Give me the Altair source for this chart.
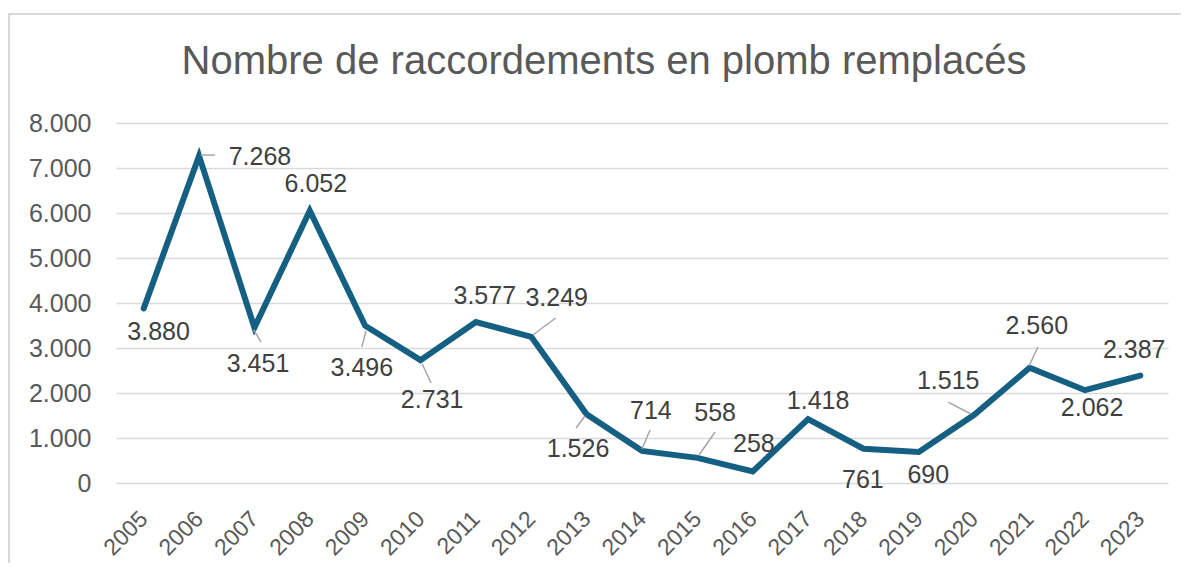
import altair as alt
import pandas as pd

# ---- data ----
years = [2005, 2006, 2007, 2008, 2009, 2010, 2011, 2012, 2013, 2014,
         2015, 2016, 2017, 2018, 2019, 2020, 2021, 2022, 2023]
values = [3880, 7268, 3451, 6052, 3496, 2731, 3577, 3249, 1526, 714,
          558, 258, 1418, 761, 690, 1515, 2560, 2062, 2387]

title_text = "Nombre de raccordements en plomb remplacés"

# label placement offsets (x in years, y in value units) relative to each point
lab_dx = [0.27, 1.1, 0.065, 0.11, -0.06, 0.21, 0.16, 0.46, -0.155, 0.16,
          0.32, 0.02, 0.18, -0.01, 0.17, -0.47, 0.13, 0.13, -0.11]
lab_dy = [-520, -25, -807, 593, -940, -887, 578, 862, -771, 887,
          998, 609, 404, -693, -513, 751, 929, -396, 569]

# leader lines: year, start offset (dx, dy), end offset (dx, dy)
lead_years = [2006, 2007, 2009, 2010, 2012, 2013, 2014, 2015, 2020, 2021]
lead_dx0 = [0.03, -0.01, 0.015, 0.03, 0.03, -0.03, 0.0, 0.03, -0.06, -0.01]
lead_dy0 = [20, -51, -118, -87, 40, -38, 42, 64, 18, 40]
lead_dx1 = [0.29, 0.12, -0.06, 0.19, 0.44, -0.19, 0.145, 0.32, -0.47, 0.15]
lead_dy1 = [20, -318, -473, -509, 418, -304, 464, 576, 284, 462]

# ---- tables ----
df = pd.DataFrame({"year": years, "value": values})
df["lx"] = [y + d for y, d in zip(years, lab_dx)]
df["ly"] = [v + d for v, d in zip(values, lab_dy)]

val_by_year = dict(zip(years, values))
lead = pd.DataFrame({
    "x0": [y + d for y, d in zip(lead_years, lead_dx0)],
    "y0": [val_by_year[y] + d for y, d in zip(lead_years, lead_dy0)],
    "x1": [y + d for y, d in zip(lead_years, lead_dx1)],
    "y1": [val_by_year[y] + d for y, d in zip(lead_years, lead_dy1)],
})

FONT = "Liberation Sans"
LINE_COLOR = "#156082"
TEXT_GRAY = "#595959"
GRID = "#D9D9D9"

xscale = alt.Scale(domain=[2004.5, 2023.5], nice=False, zero=False)
yscale = alt.Scale(domain=[0, 8000], nice=False)

xaxis = alt.Axis(values=years, format="d", labelAngle=-45, labelAlign="right",
                 labelBaseline="middle", labelPadding=32, grid=False,
                 domain=False, ticks=False, title=None, labelFontSize=23,
                 labelColor=TEXT_GRAY, labelFont=FONT, labelOverlap=False,
                 labelFlush=False)
yaxis = alt.Axis(values=[0, 1000, 2000, 3000, 4000, 5000, 6000, 7000, 8000],
                 format=",d", grid=True, gridColor=GRID, gridWidth=1.5,
                 domain=False, ticks=False, title=None, labelFontSize=25,
                 labelColor=TEXT_GRAY, labelFont=FONT, labelPadding=25)

base = alt.Chart(df)

line = base.mark_line(color=LINE_COLOR, strokeWidth=6, strokeJoin="miter",
                      strokeCap="round").encode(
    x=alt.X("year:Q", scale=xscale, axis=xaxis),
    y=alt.Y("value:Q", scale=yscale, axis=yaxis),
)

leaders = alt.Chart(lead).mark_rule(color="#A6A6A6", strokeWidth=1.5).encode(
    x=alt.X("x0:Q", scale=xscale, axis=xaxis),
    x2="x1:Q",
    y=alt.Y("y0:Q", scale=yscale, axis=yaxis),
    y2="y1:Q",
)

labels = base.mark_text(font=FONT, fontSize=25, color="#404040",
                        align="center", baseline="middle").encode(
    x=alt.X("lx:Q", scale=xscale, axis=xaxis),
    y=alt.Y("ly:Q", scale=yscale, axis=yaxis),
    text=alt.Text("value:Q", format=",d"),
)

dummy = pd.DataFrame({"t": [title_text]})
frame = alt.Chart(dummy).mark_rect(filled=False, stroke=GRID, strokeWidth=2).encode(
    x=alt.value(-107), x2=alt.value(1100), y=alt.value(-109), y2=alt.value(500)
)
title = alt.Chart(dummy).mark_text(font=FONT, fontSize=40, color=TEXT_GRAY,
                                   align="center", baseline="middle").encode(
    x=alt.value(488), y=alt.value(-61), text="t:N"
)

chart = alt.layer(frame, line, leaders, labels, title).properties(
    width=1052, height=360,
    autosize=alt.AutoSizeParams(type="none"),
    padding={"left": 108, "top": 115, "right": 13, "bottom": 80},
).configure(
    view=alt.ViewConfig(strokeWidth=0, stroke="transparent"),
    locale={"number": {"decimal": ",", "thousands": ".", "grouping": [3],
                       "currency": ["", "€"]}},
)

chart.save("out.html", embed_options={"renderer": "svg", "actions": False})
